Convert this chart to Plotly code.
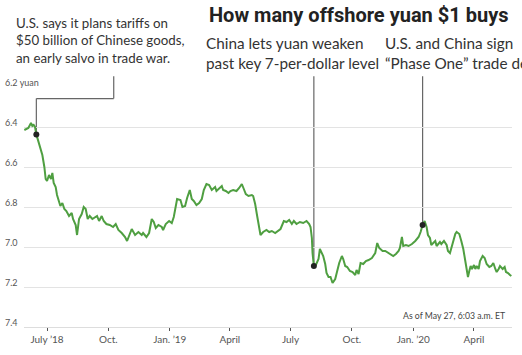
import plotly.graph_objects as go
import pandas as pd

# Offshore yuan per US dollar
dates = [
    "2018-05-28", "2018-06-03", "2018-06-07", "2018-06-09", "2018-06-11", "2018-06-13", "2018-06-15",
    "2018-06-20", "2018-06-24", "2018-06-27", "2018-06-29", "2018-07-01", "2018-07-04", "2018-07-07",
    "2018-07-09", "2018-07-11", "2018-07-14", "2018-07-16", "2018-07-19", "2018-07-21", "2018-07-24",
    "2018-07-27", "2018-07-30", "2018-08-03", "2018-08-07", "2018-08-09", "2018-08-13", "2018-08-15",
    "2018-08-18", "2018-08-22", "2018-08-25", "2018-08-28", "2018-08-31", "2018-09-03", "2018-09-07",
    "2018-09-11", "2018-09-14", "2018-09-17", "2018-09-21", "2018-09-24", "2018-09-28", "2018-10-03",
    "2018-10-08", "2018-10-12", "2018-10-16", "2018-10-21", "2018-10-26", "2018-10-29", "2018-11-02",
    "2018-11-05", "2018-11-10", "2018-11-15", "2018-11-20", "2018-11-22", "2018-11-27", "2018-12-01",
    "2018-12-05", "2018-12-08", "2018-12-11", "2018-12-15", "2018-12-20", "2018-12-22", "2018-12-26",
    "2018-12-31", "2019-01-04", "2019-01-07", "2019-01-12", "2019-01-17", "2019-01-20", "2019-01-24",
    "2019-01-27", "2019-01-31", "2019-02-03", "2019-02-06", "2019-02-10", "2019-02-14", "2019-02-18",
    "2019-02-21", "2019-02-25", "2019-03-01", "2019-03-05", "2019-03-10", "2019-03-12", "2019-03-16",
    "2019-03-20", "2019-03-22", "2019-03-26", "2019-03-30", "2019-04-02", "2019-04-06", "2019-04-11",
    "2019-04-15", "2019-04-19", "2019-04-22", "2019-04-25", "2019-04-29", "2019-05-04", "2019-05-06",
    "2019-05-09", "2019-05-12", "2019-05-15", "2019-05-17", "2019-05-21", "2019-05-26", "2019-05-30",
    "2019-06-03", "2019-06-08", "2019-06-13", "2019-06-16", "2019-06-21", "2019-06-25", "2019-06-29",
    "2019-07-03", "2019-07-06", "2019-07-10", "2019-07-15", "2019-07-20", "2019-07-25", "2019-07-29",
    "2019-07-31", "2019-08-02", "2019-08-03", "2019-08-05", "2019-08-08", "2019-08-12", "2019-08-14",
    "2019-08-17", "2019-08-19", "2019-08-22", "2019-08-24", "2019-08-27", "2019-08-30", "2019-09-02",
    "2019-09-06", "2019-09-09", "2019-09-12", "2019-09-16", "2019-09-18", "2019-09-21", "2019-09-24",
    "2019-09-28", "2019-10-02", "2019-10-06", "2019-10-08", "2019-10-11", "2019-10-14", "2019-10-18",
    "2019-10-22", "2019-10-26", "2019-10-31", "2019-11-05", "2019-11-08", "2019-11-11", "2019-11-16",
    "2019-11-20", "2019-11-25", "2019-11-29", "2019-12-02", "2019-12-06", "2019-12-10", "2019-12-12",
    "2019-12-15", "2019-12-17", "2019-12-21", "2019-12-25", "2019-12-30", "2020-01-04", "2020-01-09",
    "2020-01-12", "2020-01-14", "2020-01-15", "2020-01-18", "2020-01-21", "2020-01-23", "2020-01-26",
    "2020-01-28", "2020-02-03", "2020-02-05", "2020-02-07", "2020-02-10", "2020-02-12", "2020-02-16",
    "2020-02-20", "2020-02-22", "2020-02-25", "2020-02-27", "2020-03-01", "2020-03-04", "2020-03-06",
    "2020-03-10", "2020-03-13", "2020-03-16", "2020-03-19", "2020-03-21", "2020-03-23", "2020-03-25",
    "2020-03-27", "2020-03-29", "2020-04-01", "2020-04-03", "2020-04-05", "2020-04-08", "2020-04-10",
    "2020-04-14", "2020-04-17", "2020-04-20", "2020-04-24", "2020-04-27", "2020-04-30", "2020-05-03",
    "2020-05-05", "2020-05-08", "2020-05-10", "2020-05-14", "2020-05-17", "2020-05-19", "2020-05-22",
    "2020-05-25", "2020-05-27",
]
yuan = [
    6.415, 6.405, 6.38, 6.395, 6.39, 6.40, 6.437,
    6.49, 6.54, 6.60, 6.66, 6.67, 6.64, 6.66,
    6.63, 6.68, 6.70, 6.74, 6.77, 6.795, 6.78,
    6.81, 6.82, 6.845, 6.83, 6.86, 6.89, 6.94,
    6.86, 6.835, 6.80, 6.81, 6.86, 6.845, 6.86,
    6.85, 6.845, 6.87, 6.845, 6.87, 6.885, 6.89,
    6.90, 6.885, 6.915, 6.93, 6.95, 6.97, 6.94,
    6.91, 6.94, 6.925, 6.94, 6.93, 6.95, 6.93,
    6.86, 6.875, 6.905, 6.89, 6.90, 6.915, 6.885,
    6.87, 6.88, 6.85, 6.76, 6.765, 6.80, 6.795,
    6.755, 6.715, 6.76, 6.77, 6.79, 6.78, 6.76,
    6.715, 6.685, 6.69, 6.715, 6.70, 6.72, 6.705,
    6.695, 6.715, 6.72, 6.73, 6.72, 6.715, 6.72,
    6.705, 6.685, 6.71, 6.735, 6.745, 6.74, 6.745,
    6.785, 6.845, 6.90, 6.94, 6.925, 6.915, 6.925,
    6.92, 6.93, 6.92, 6.91, 6.87, 6.875, 6.865,
    6.885, 6.87, 6.885, 6.875, 6.88, 6.87, 6.885,
    6.90, 6.955, 7.03, 7.095, 7.09, 7.06, 7.01,
    7.03, 7.045, 7.085, 7.13, 7.15, 7.15, 7.18,
    7.16, 7.12, 7.08, 7.045, 7.06, 7.095, 7.10,
    7.12, 7.125, 7.14, 7.115, 7.135, 7.08, 7.085,
    7.07, 7.065, 7.055, 7.03, 6.98, 7.005, 7.02,
    7.02, 7.03, 7.035, 7.045, 7.035, 7.02, 7.005,
    6.95, 6.995, 6.99, 6.995, 6.985, 6.97, 6.95,
    6.925, 6.90, 6.89, 6.87, 6.90, 6.94, 6.955,
    6.99, 6.97, 6.995, 6.985, 6.975, 6.985, 6.97,
    6.99, 7.02, 7.03, 7.005, 6.965, 6.935, 6.925,
    6.935, 6.97, 7.01, 7.07, 7.12, 7.15, 7.12,
    7.095, 7.11, 7.09, 7.11, 7.095, 7.11, 7.07,
    7.045, 7.055, 7.085, 7.10, 7.095, 7.08, 7.11,
    7.125, 7.11, 7.095, 7.11, 7.10, 7.125, 7.13,
    7.14, 7.145,
]

event_dates = ["2018-06-15", "2019-08-05", "2020-01-15"]
event_texts = [
    "U.S. says it plans tariffs on<br>$50 billion of Chinese goods,<br>an early salvo in trade war.",
    "China lets yuan weaken<br>past key 7-per-dollar level",
    "U.S. and China sign<br>\u201cPhase One\u201d trade deal",
]
elbow_date = "2018-10-09"

x_tick_dates = ["2018-07-01", "2018-10-01", "2019-01-01", "2019-04-01",
                "2019-07-01", "2019-10-01", "2020-01-01", "2020-04-01"]
x_tick_labels = ["July \u201918", "Oct.", "Jan. \u201919", "April",
                 "July", "Oct.", "Jan. \u201920", "April"]
y_ticks = [6.2, 6.4, 6.6, 6.8, 7.0, 7.2, 7.4]
y_tick_labels = ["6.2 yuan", "6.4", "6.6", "6.8", "7.0", "7.2", "7.4"]

title_text = "How many offshore yuan $1 buys"
note_text = "As of May 27, 6:03 a.m. ET"

# ---------------------------------------------------------------
W, H = 522, 355
ML, MR, MT, MB = 24, 10, 87, 20
PW, PH = W - ML - MR, H - MT - MB
Y_RANGE = [7.4, 6.2]
X_RANGE = ["2018-05-27 12:00", "2020-05-28"]


def px_x(px):
    return (px - ML) / PW


def px_y(py):
    return (H - MB - py) / PH


def val_to_paper(v):
    return (Y_RANGE[0] - v) / (Y_RANGE[0] - Y_RANGE[1])


series = pd.Series(yuan, index=pd.to_datetime(dates))
event_vals = [float(series[pd.Timestamp(d)]) for d in event_dates]

FONT = "Lato"
TITLE_FONT = "Roboto"
GREEN = "#4f9f41"
LEADER = "#666666"

fig = go.Figure()
fig.add_trace(go.Scatter(
    x=pd.to_datetime(dates), y=yuan, mode="lines",
    line=dict(color=GREEN, width=2), hoverinfo="skip", showlegend=False,
))
fig.add_trace(go.Scatter(
    x=pd.to_datetime(event_dates), y=event_vals, mode="markers",
    marker=dict(color="#222222", size=6), hoverinfo="skip", showlegend=False,
))

top_leader = px_y(76)
elbow_y = px_y(99)
shapes = [
    dict(type="line", xref="x", yref="paper", x0=elbow_date, x1=elbow_date,
         y0=top_leader, y1=elbow_y),
    dict(type="line", xref="x", yref="paper", x0=elbow_date, x1=event_dates[0],
         y0=elbow_y, y1=elbow_y),
    dict(type="line", xref="x", yref="paper", x0=event_dates[0], x1=event_dates[0],
         y0=elbow_y, y1=val_to_paper(event_vals[0])),
    dict(type="line", xref="x", yref="paper", x0=event_dates[1], x1=event_dates[1],
         y0=top_leader, y1=val_to_paper(event_vals[1])),
    dict(type="line", xref="x", yref="paper", x0=event_dates[2], x1=event_dates[2],
         y0=top_leader, y1=val_to_paper(event_vals[2])),
]
for s in shapes:
    s["line"] = dict(color=LEADER, width=1.2)
    s["layer"] = "below"

annotations = []
# y tick labels
for v, t in zip(y_ticks, y_tick_labels):
    annotations.append(dict(
        text=t, xref="paper", yref="y", x=px_x(4), y=v, xanchor="left", yanchor="middle",
        yshift=5, showarrow=False, font=dict(family=FONT, size=9, color="#555555"),
        bgcolor="white" if v == 6.2 else None, borderpad=0,
    ))

# title
annotations.append(dict(
    text=title_text, xref="paper", yref="paper", x=px_x(207), y=px_y(13),
    xanchor="left", yanchor="middle", showarrow=False,
    font=dict(family=TITLE_FONT, size=20, color="#222222", weight="bold"),
))
# event labels
label_pos = [(14, 39), (204, 52), (383, 52)]
label_sizes = [13.3, 15.3, 15.3]
for (lx, ly), t, fs in zip(label_pos, event_texts, label_sizes):
    annotations.append(dict(
        text=t, xref="paper", yref="paper", x=px_x(lx), y=px_y(ly),
        xanchor="left", yanchor="middle", align="left", showarrow=False,
        font=dict(family=FONT, size=fs, color="#333333"),
    ))
# note
annotations.append(dict(
    text=note_text, xref="paper", yref="paper", x=px_x(507), y=px_y(323),
    xanchor="right", yanchor="middle", showarrow=False,
    font=dict(family=FONT, size=8.7, color="#444444"),
))

fig.update_layout(
    width=W, height=H, autosize=False,
    margin=dict(l=ML, r=MR, t=MT, b=MB, pad=0),
    paper_bgcolor="white", plot_bgcolor="white",
    shapes=shapes, annotations=annotations, showlegend=False,
    xaxis=dict(
        type="date", range=X_RANGE, tickvals=x_tick_dates, ticktext=x_tick_labels,
        ticks="outside", ticklen=3, tickwidth=1, tickcolor="#555555",
        tickfont=dict(family=FONT, size=10, color="#555555"),
        showgrid=False, zeroline=False, showline=True, linecolor="#dddddd", linewidth=1,
    ),
    yaxis=dict(
        range=Y_RANGE, tickvals=y_ticks, showticklabels=False,
        showgrid=True, gridcolor="#e3e3e3", gridwidth=1, zeroline=False, showline=False,
    ),
)

fig.write_html(
    "out.html",
    config={"displayModeBar": False, "staticPlot": True},
    post_script="document.body.style.margin='0';document.body.style.overflow='hidden';",
)
